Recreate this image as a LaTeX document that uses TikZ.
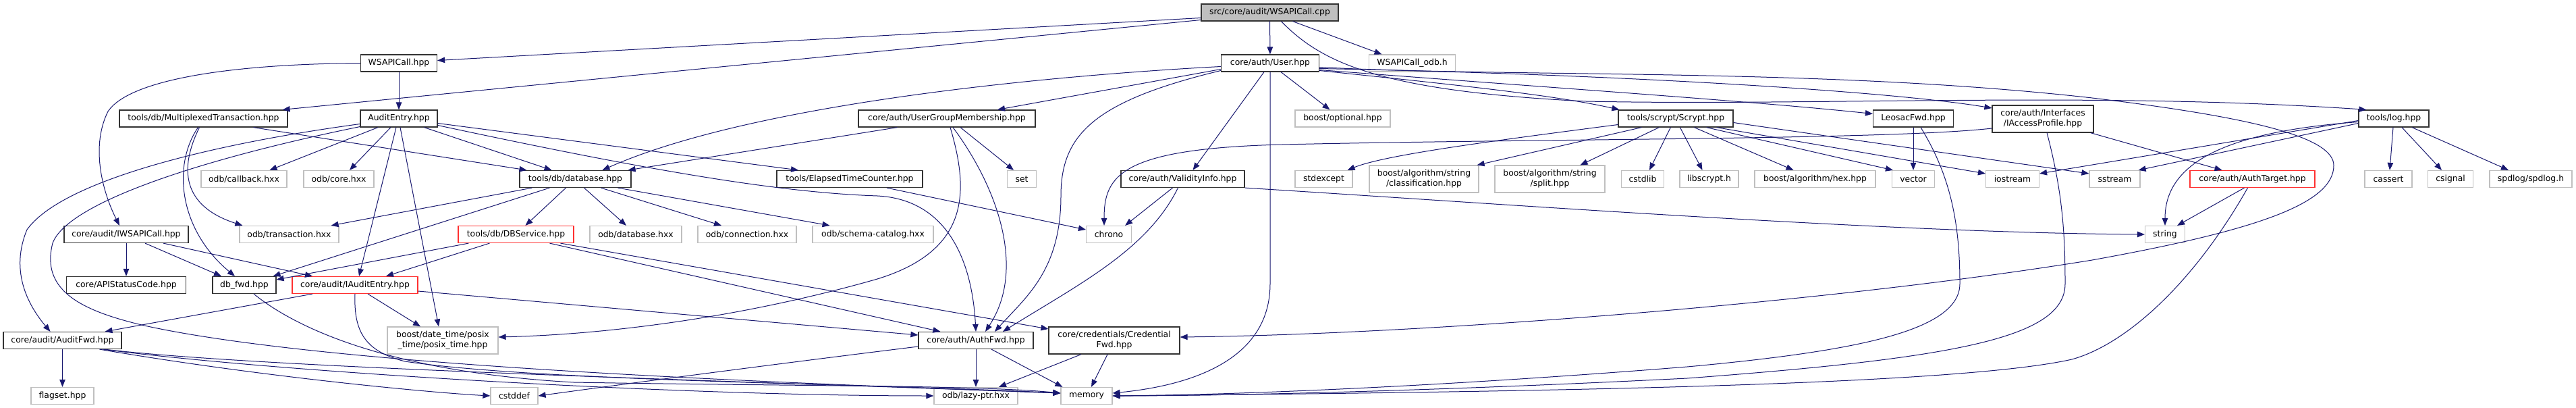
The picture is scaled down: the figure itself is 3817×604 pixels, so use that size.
\documentclass[tikz,border=0pt]{standalone}
\usepackage{fontspec}
\setmainfont{DejaVu Sans}
\usetikzlibrary{arrows.meta,calc}
\definecolor{edgeblue}{HTML}{191970}
\definecolor{extgray}{HTML}{BFBFBF}
\definecolor{docline}{HTML}{333333}
\definecolor{trunc}{HTML}{FF3030}
\definecolor{rootfill}{HTML}{BFBFBF}
\tikzset{
  base/.style={rectangle, inner sep=0pt, minimum height=25pt, align=center, font=\fontsize{12.4}{15}\selectfont, line width=1.2pt},
  doc/.style={base, draw=docline},
  ext/.style={base, draw=extgray},
  red/.style={base, draw=trunc},
  rootbox/.style={base, draw=docline, fill=rootfill},
  two/.style={minimum height=40pt},
  edge/.style={draw=edgeblue, line width=1pt, -{Triangle[length=11pt,width=8.5pt]}, fill=none},
}
\begin{document}
\begin{tikzpicture}[x=1pt,y=-1pt]
\fill[white] (0,0) rectangle (3817,604);
\useasboundingbox (0,0) rectangle (3817,604);
% row A
\node[rootbox, minimum width=203pt] (root) at (1881.5,18.5) {src/core/audit/WSAPICall.cpp};
% row B
\node[doc, minimum width=113pt] (wsapihpp) at (591,93.5) {WSAPICall.hpp};
\node[doc, minimum width=145pt] (user) at (1882,93.5) {core/auth/User.hpp};
\node[ext, minimum width=128pt] (odbh) at (2092.5,93.5) {WSAPICall\_odb.h};
% row C
\node[doc, minimum width=249pt] (multi) at (301.5,175.5) {tools/db/MultiplexedTransaction.hpp};
\node[doc, minimum width=114pt] (auditentry) at (591,175.5) {AuditEntry.hpp};
\node[doc, minimum width=262pt] (ugm) at (1403,175.5) {core/auth/UserGroupMembership.hpp};
\node[ext, minimum width=141pt] (optional) at (1989.5,175.5) {boost/optional.hpp};
\node[doc, minimum width=170pt] (scrypt) at (2483,175.5) {tools/scrypt/Scrypt.hpp};
\node[doc, minimum width=119pt] (leosacfwd) at (2835,175.5) {LeosacFwd.hpp};
\node[doc, two, minimum width=150pt] (iaccess) at (3027,176) {core/auth/Interfaces\\/IAccessProfile.hpp};
\node[doc, minimum width=104pt] (log) at (3547,175.5) {tools/log.hpp};
% row D
\node[ext, minimum width=127pt] (callback) at (361.5,265) {odb/callback.hxx};
\node[ext, minimum width=104pt] (core) at (502,265) {odb/core.hxx};
\node[doc, minimum width=165pt] (database) at (852.5,265) {tools/db/database.hpp};
\node[doc, minimum width=216pt] (elapsed) at (1259,265) {tools/ElapsedTimeCounter.hpp};
\node[ext, minimum width=43pt] (set) at (1514,265) {set};
\node[doc, minimum width=183pt] (validity) at (1752.5,265) {core/auth/ValidityInfo.hpp};
\node[ext, minimum width=85pt] (stdexcept) at (1961.5,265) {stdexcept};
\node[ext, two, minimum width=162pt] (classif) at (2110,265) {boost/algorithm/string\\/classification.hpp};
\node[ext, two, minimum width=163pt] (split) at (2296.5,265) {boost/algorithm/string\\/split.hpp};
\node[ext, minimum width=63pt] (cstdlib) at (2434,265) {cstdlib};
\node[ext, minimum width=87pt] (libscrypt) at (2532.5,265) {libscrypt.h};
\node[ext, minimum width=179pt] (hex) at (2689.5,265) {boost/algorithm/hex.hpp};
\node[ext, minimum width=63pt] (vector) at (2835,265) {vector};
\node[ext, minimum width=79pt] (iostream) at (2982,265) {iostream};
\node[ext, minimum width=75pt] (sstream) at (3133.5,265) {sstream};
\node[red, minimum width=185pt] (authtarget) at (3337.5,265) {core/auth/AuthTarget.hpp};
\node[ext, minimum width=70pt] (cassert) at (3539,265) {cassert};
\node[ext, minimum width=67pt] (csignal) at (3631,265) {csignal};
\node[ext, minimum width=122pt] (spdlog) at (3750,265) {spdlog/spdlog.h};
% row E
\node[doc, minimum width=184pt] (iwsapi) at (187,347) {core/audit/IWSAPICall.hpp};
\node[ext, minimum width=147pt] (transaction) at (428.5,347) {odb/transaction.hxx};
\node[red, minimum width=171pt] (dbservice) at (764.5,347) {tools/db/DBService.hpp};
\node[ext, minimum width=136pt] (odbdatabase) at (942,347) {odb/database.hxx};
\node[ext, minimum width=146pt] (connection) at (1107,347) {odb/connection.hxx};
\node[ext, minimum width=179pt] (schema) at (1293.5,347) {odb/schema-catalog.hxx};
\node[ext, minimum width=67pt] (chrono) at (1643,347) {chrono};
\node[ext, minimum width=59pt] (string) at (3208,347) {string};
% row F
\node[doc, minimum width=177pt] (apistatus) at (187,422) {core/APIStatusCode.hpp};
\node[doc, minimum width=94pt] (dbfwd) at (362,422) {db\_fwd.hpp};
\node[red, minimum width=186pt] (iauditentry) at (526,422) {core/audit/IAuditEntry.hpp};
% row G
\node[doc, minimum width=175pt] (auditfwd) at (92.5,504) {core/audit/AuditFwd.hpp};
\node[ext, two, minimum width=164pt] (datetime) at (656,504) {boost/date\_time/posix\\\_time/posix\_time.hpp};
\node[doc, minimum width=170pt] (authfwd) at (1446,504) {core/auth/AuthFwd.hpp};
\node[doc, two, minimum width=194pt] (credfwd) at (1651,504) {core/credentials/Credential\\Fwd.hpp};
% row H
\node[ext, minimum width=93pt] (flagset) at (92.5,586) {flagset.hpp};
\node[ext, minimum width=70pt] (cstddef) at (762,586) {cstddef};
\node[ext, minimum width=124pt] (lazyptr) at (1446,586) {odb/lazy-ptr.hxx};
\node[ext, minimum width=76pt] (memory) at (1610,586) {memory};

% ---- edges ----
% root
\path[edge] ($(root.west)+(0,8)$) -- ($(wsapihpp.east)+(0,-4)$);
\path[edge] ($(root.west)+(0,11)$) -- ($(multi.north east)+(-8,0)$);
\path[edge] (root) -- (user);
\path[edge] ($(root.south)+(34,0)$) -- ($(odbh.north)+(-45,0)$);
\path[edge] ($(root.south)+(17,0)$) .. controls (1960,95) and (2050,135) .. (2350,150) .. controls (2700,157) and (3100,135) .. ($(log.north west)+(12,0)$);
% WSAPICall.hpp
\path[edge] (wsapihpp) -- (auditentry);
\path[edge] (wsapihpp.west) .. controls (330,95) and (190,120) .. (160,165) .. controls (135,215) and (150,280) .. ($(iwsapi.north)+(-10,0)$);
% AuditEntry
\path[edge] ($(auditentry.south)+(-31,0)$) -- ($(callback.north)+(38,0)$);
\path[edge] ($(auditentry.south)+(-12,0)$) -- ($(core.north)+(16,0)$);
\path[edge] ($(auditentry.south east)+(-20,0)$) -- ($(database.north)+(-35,0)$);
\path[edge] ($(auditentry.east)+(0,7)$) -- ($(elapsed.north)+(-76,0)$);
\path[edge] ($(auditentry.east)+(0,10)$) .. controls (950,250) and (1150,285) .. (1300,290) .. controls (1400,295) and (1440,380) .. (authfwd.north);
\path[edge] ($(auditentry.south)+(-4,0)$) -- ($(iauditentry.north)+(6,0)$);
\path[edge] ($(auditentry.south)+(2,0)$) -- ($(datetime.north)+(-6,0)$);
\path[edge] ($(auditentry.west)+(0,8)$) .. controls (300,215) and (90,270) .. (40,340) .. controls (15,400) and (40,450) .. ($(auditfwd.north)+(-18,0)$);
\path[edge] ($(auditentry.west)+(0,12)$) .. controls (300,235) and (100,300) .. (78,360) .. controls (60,430) and (120,460) .. (214,482) .. controls (500,545) and (1200,568) .. ($(memory.west)+(0,-4)$);
% MultiplexedTransaction
\path[edge] ($(multi.south)+(-6,0)$) .. controls (265,250) and (270,305) .. ($(transaction.north west)+(5,0)$);
\path[edge] ($(multi.south)+(-8,0)$) .. controls (255,245) and (265,340) .. ($(dbfwd.north)+(-14,0)$);
\path[edge] ($(multi.south)+(74,0)$) -- ($(database.north)+(-72,0)$);
% IWSAPICall
\path[edge] (iwsapi) -- (apistatus);
\path[edge] ($(iwsapi.south)+(28,0)$) -- ($(dbfwd.north)+(-34,0)$);
\path[edge] ($(iwsapi.south)+(55,0)$) -- ($(iauditentry.north)+(-63,0)$);
% IAuditEntry
\path[edge] ($(iauditentry.south)+(-63,0)$) -- ($(auditfwd.north)+(63,0)$);
\path[edge] ($(iauditentry.south)+(19,0)$) -- ($(datetime.north)+(-33,0)$);
\path[edge] (iauditentry.south) .. controls (524,490) and (540,520) .. (600,535) .. controls (800,565) and (1300,568) .. ($(memory.west)+(0,-4)$);
\path[edge] ($(iauditentry.east)+(0,9)$) -- ($(authfwd.west)+(0,-8)$);
% db_fwd
\path[edge] ($(dbfwd.south)+(14,0)$) .. controls (450,495) and (600,552) .. (850,566) .. controls (1200,572) and (1450,570) .. ($(memory.west)+(0,-4)$);
% AuditFwd
\path[edge] (auditfwd) -- (flagset);
\path[edge] ($(auditfwd.south)+(55,0)$) .. controls (400,560) and (650,582) .. (cstddef.west);
\path[edge] ($(auditfwd.south)+(60,0)$) .. controls (400,550) and (1000,586) .. (lazyptr.west);
\path[edge] ($(auditfwd.south)+(62,0)$) .. controls (400,546) and (1100,564) .. ($(memory.west)+(0,-4)$);
% database
\path[edge] ($(database.south)+(-14,0)$) -- ($(dbservice.north)+(14,0)$);
\path[edge] ($(database.south)+(13,0)$) -- ($(odbdatabase.north)+(-14,0)$);
\path[edge] ($(database.south)+(38,0)$) -- ($(connection.north)+(-38,0)$);
\path[edge] ($(database.south)+(63,0)$) -- ($(schema.north)+(-64,0)$);
\path[edge] ($(database.south west)+(19,0)$) -- ($(transaction.north east)+(-12,0)$);
\path[edge] ($(database.south west)+(45,0)$) -- ($(dbfwd.north east)+(-5,0)$);
% DBService
\path[edge] ($(dbservice.south west)+(16,0)$) -- ($(dbfwd.east)+(0,-8)$);
\path[edge] ($(dbservice.south west)+(47,0)$) -- ($(iauditentry.north)+(46,0)$);
\path[edge] ($(dbservice.south)+(50,0)$) -- ($(authfwd.north west)+(33,0)$);
\path[edge] ($(dbservice.south)+(66,0)$) -- ($(credfwd.west)+(0,-17)$);
% User
\path[edge] ($(user.west)+(0,5)$) .. controls (1500,115) and (1100,160) .. ($(database.north)+(40,0)$);
\path[edge] ($(user.west)+(0,9)$) -- ($(ugm.north)+(75,0)$);
\path[edge] ($(user.west)+(0,11)$) .. controls (1620,150) and (1572,200) .. (1572,290) .. controls (1572,400) and (1520,440) .. ($(authfwd.north)+(28,0)$);
\path[edge] ($(user.south)+(-9,0)$) -- ($(validity.north)+(15,0)$);
\path[edge] (user.south) -- (1882,420) .. controls (1882,540) and (1750,572) .. ($(memory.east)+(0,-4)$);
\path[edge] ($(user.south)+(16,0)$) -- ($(optional.north)+(-19,0)$);
\path[edge] ($(user.east)+(0,11)$) .. controls (2150,125) and (2300,140) .. ($(scrypt.north west)+(2,0)$);
\path[edge] ($(user.east)+(0,10)$) .. controls (2300,130) and (2600,150) .. ($(leosacfwd.west)+(0,-7)$);
\path[edge] ($(user.east)+(0,8)$) .. controls (2400,110) and (2800,135) .. ($(iaccess.west)+(0,-16)$);
\path[edge] ($(user.east)+(0,6)$) .. controls (2250,115) and (2700,100) .. (3100,145) .. controls (3350,175) and (3458,205) .. (3458,245) .. controls (3458,300) and (3350,340) .. (3100,385) .. controls (2700,450) and (2100,495) .. ($(credfwd.east)+(0,-5)$);
% UserGroupMembership
\path[edge] ($(ugm.south west)+(58,0)$) -- ($(database.north east)+(-5,0)$);
\path[edge] ($(ugm.south)+(5,0)$) .. controls (1435,280) and (1440,370) .. (1300,413) .. controls (1100,470) and (900,495) .. ($(datetime.east)+(0,-5)$);
\path[edge] ($(ugm.south)+(9,0)$) .. controls (1480,280) and (1520,400) .. ($(authfwd.north)+(14,0)$);
\path[edge] ($(ugm.south)+(20,0)$) -- ($(set.north)+(-12,0)$);
% ElapsedTimeCounter, ValidityInfo
\path[edge] ($(elapsed.south)+(55,0)$) -- ($(chrono.west)+(0,-7)$);
\path[edge] ($(validity.south)+(-15,0)$) -- ($(chrono.north east)+(-10,0)$);
\path[edge] ($(validity.south)+(-7,0)$) .. controls (1700,370) and (1600,420) .. ($(authfwd.north)+(40,0)$);
\path[edge] (validity.south east) .. controls (2200,300) and (2800,345) .. (string.west);
% IAccessProfile
\path[edge] ($(iaccess.west)+(0,14)$) .. controls (2800,207) and (2300,205) .. (1900,214) .. controls (1660,220) and (1636,260) .. ($(chrono.north)+(-7,0)$);
\path[edge] ($(iaccess.south east)+(-5,0)$) -- ($(authtarget.north)+(-45,0)$);
\path[edge] ($(iaccess.south)+(6,0)$) .. controls (3055,280) and (3060,340) .. (3060,420) .. controls (3060,500) and (2900,530) .. (2500,560) .. controls (2100,580) and (1800,586) .. (memory.east);
% LeosacFwd
\path[edge] (leosacfwd) -- (vector);
\path[edge] ($(leosacfwd.south)+(11,0)$) .. controls (2890,260) and (2904,330) .. (2904,420) .. controls (2904,490) and (2750,520) .. (2500,543) .. controls (2100,575) and (1800,585) .. (memory.east);
% AuthTarget
\path[edge] ($(authtarget.south)+(-12,0)$) -- ($(string.north east)+(-12,0)$);
\path[edge] ($(authtarget.south)+(-7,0)$) .. controls (3250,420) and (3150,510) .. (3070,532) .. controls (2900,570) and (2300,580) .. (memory.east);
% Scrypt
\path[edge] ($(scrypt.west)+(0,9)$) .. controls (2200,210) and (2050,230) .. ($(stdexcept.north east)+(-8,0)$);
\path[edge] ($(scrypt.south west)+(35,0)$) -- ($(classif.north east)+(-3,0)$);
\path[edge] ($(scrypt.south west)+(61,0)$) -- ($(split.north)+(45,0)$);
\path[edge] ($(scrypt.south west)+(78,0)$) -- ($(cstdlib.north)+(10,0)$);
\path[edge] ($(scrypt.south west)+(92,0)$) -- ($(libscrypt.north)+(-10,0)$);
\path[edge] ($(scrypt.south west)+(113,0)$) -- ($(hex.north)+(-32,0)$);
\path[edge] ($(scrypt.south east)+(-40,0)$) -- ($(vector.north west)+(2,0)$);
\path[edge] ($(scrypt.south east)+(-25,0)$) -- ($(iostream.west)+(0,-8)$);
\path[edge] ($(scrypt.east)+(0,6)$) -- ($(sstream.west)+(0,-8)$);
% log
\path[edge] ($(log.west)+(0,5)$) .. controls (3300,195) and (3208,240) .. (string.north);
\path[edge] ($(log.west)+(0,3)$) -- ($(iostream.east)+(0,-8)$);
\path[edge] ($(log.west)+(0,7)$) -- ($(sstream.north east)+(-3,0)$);
\path[edge] ($(log.south)+(-1,0)$) -- ($(cassert.north)+(2,0)$);
\path[edge] ($(log.south)+(12,0)$) -- ($(csignal.north)+(-13,0)$);
\path[edge] ($(log.south)+(27,0)$) -- ($(spdlog.north)+(-33,0)$);
% CredentialFwd, AuthFwd
\path[edge] ($(credfwd.south)+(-49,0)$) -- ($(lazyptr.north)+(34,0)$);
\path[edge] ($(credfwd.south)+(-10,0)$) -- ($(memory.north)+(7,0)$);
\path[edge] (authfwd) -- (lazyptr);
\path[edge] ($(authfwd.south)+(23,0)$) -- ($(memory.north west)+(3,0)$);
\path[edge] ($(authfwd.west)+(0,9)$) .. controls (1100,545) and (900,572) .. (cstddef.east);
\end{tikzpicture}
\end{document}
